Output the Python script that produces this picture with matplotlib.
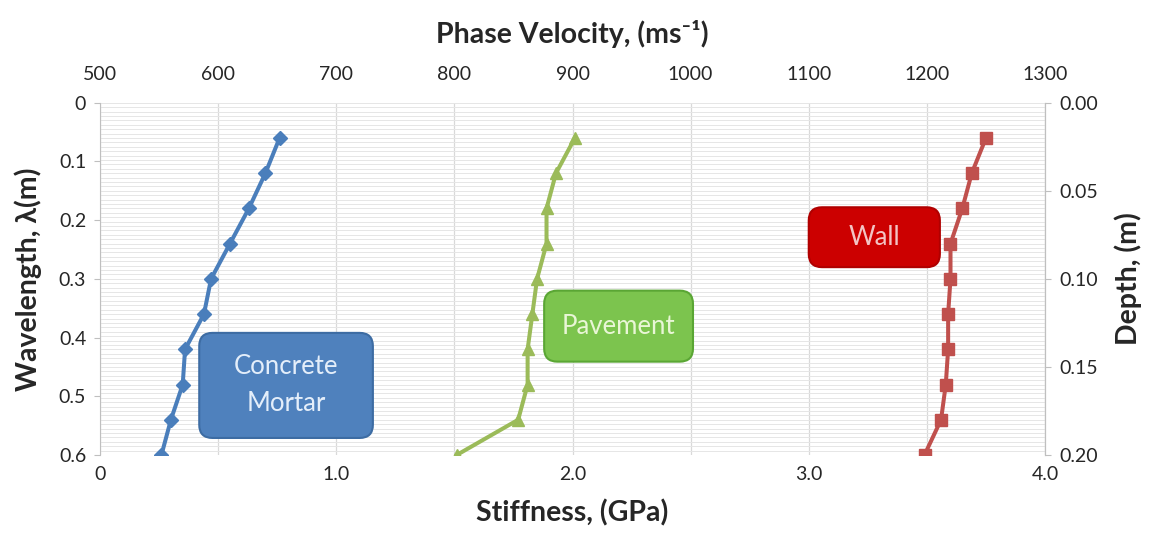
import matplotlib
matplotlib.use("Agg")
import matplotlib.pyplot as plt
import numpy as np
from matplotlib.patches import FancyBboxPatch
from matplotlib.ticker import FixedLocator, FuncFormatter

# wavelength (m) shared by all three profiles
WAVELENGTH = [0.06, 0.12, 0.18, 0.24, 0.30, 0.36, 0.42, 0.48, 0.54, 0.60]

# stiffness (GPa)
CONCRETE = [0.76, 0.70, 0.63, 0.55, 0.47, 0.44, 0.36, 0.35, 0.30, 0.26]
PAVEMENT = [2.01, 1.93, 1.89, 1.89, 1.85, 1.83, 1.81, 1.81, 1.77, 1.51]
WALL = [3.75, 3.69, 3.65, 3.60, 3.60, 3.59, 3.59, 3.58, 3.56, 3.49]

STIFF_TICKS = [0, 1.0, 2.0, 3.0, 4.0]
VEL_TICKS = [500, 600, 700, 800, 900, 1000, 1100, 1200, 1300]
WAVE_TICKS = [0, 0.1, 0.2, 0.3, 0.4, 0.5, 0.6]
DEPTH_TICKS = [0.00, 0.05, 0.10, 0.15, 0.20]

SERIES = [
    (CONCRETE, '#4a7ebb', 'D', 7),
    (PAVEMENT, '#9bbb59', '^', 8),
    (WALL, '#c0504d', 's', 8),
]

LABELS = [
    # text, x0, y0, x1, y1 (stiffness / wavelength), face, edge, text colour
    ('Concrete\nMortar', 0.42, 0.392, 1.155, 0.571, '#4f81bd', '#3d6ca3', '#e4eefa'),
    ('Pavement', 1.88, 0.320, 2.51, 0.441, '#7cc44e', '#5aa634', '#e9f6d6'),
    ('Wall', 3.00, 0.178, 3.555, 0.280, '#cc0000', '#b00000', '#f3c4c4'),
]

plt.rcParams['font.family'] = ['Lato', 'DejaVu Sans']

fig = plt.figure(figsize=(11.51, 5.41), dpi=100)
ax = fig.add_axes([0.0869, 0.159, 0.8210, 0.651])

XMAX, YMAX = 4.0, 0.6
ax.set_xlim(0, XMAX)
ax.set_ylim(YMAX, 0)

# gridlines: vertical every 0.5 GPa, dense horizontal minor lines
for x in np.arange(0, 4.01, 0.5):
    ax.axvline(x, color='#d9d9d9', linewidth=0.9, zorder=0)
for y in np.linspace(0, 0.6, 81):
    ax.axhline(y, color='#e6e6e6', linewidth=0.7, zorder=0)

for values, color, marker, ms in SERIES:
    ax.plot(values, WAVELENGTH, color=color, linewidth=2.9, marker=marker,
            markersize=ms, markerfacecolor=color, markeredgecolor=color, zorder=3)

# rounded label boxes, built in axes fraction so the corners stay round
aspect = (0.8210 * 1151) / (0.651 * 541)
for text, x0, y0, x1, y1, face, edge, tcolor in LABELS:
    fx0, fx1 = x0 / XMAX, x1 / XMAX
    fy0, fy1 = 1 - y1 / YMAX, 1 - y0 / YMAX
    box = FancyBboxPatch((fx0, fy0), fx1 - fx0, fy1 - fy0,
                         boxstyle='round,pad=0,rounding_size=0.014',
                         mutation_aspect=aspect, transform=ax.transAxes,
                         facecolor=face, edgecolor=edge, linewidth=1.5, zorder=4)
    ax.add_patch(box)
    ax.text((fx0 + fx1) / 2, (fy0 + fy1) / 2, text, ha='center', va='center',
            transform=ax.transAxes, fontsize=18.5, color=tcolor, linespacing=1.6,
            zorder=5)

for spine in ['top', 'bottom']:
    ax.spines[spine].set_visible(False)
ax.spines['left'].set_color('#bfbfbf')
ax.spines['right'].set_color('#bfbfbf')

tick_color = '#262626'
ax.xaxis.set_major_locator(FixedLocator(STIFF_TICKS))
ax.xaxis.set_major_formatter(FuncFormatter(lambda v, p: '0' if v == 0 else f'{v:.1f}'))
ax.yaxis.set_major_locator(FixedLocator(WAVE_TICKS))
ax.yaxis.set_major_formatter(FuncFormatter(lambda v, p: '0' if v == 0 else f'{v:.1f}'))
ax.tick_params(axis='x', length=0, pad=8, labelsize=14, colors=tick_color)
ax.tick_params(axis='y', length=4, color='#bfbfbf', pad=6, labelsize=14, labelcolor=tick_color)

top = ax.secondary_xaxis('top', functions=(lambda s: 500 + 200 * s, lambda v: (v - 500) / 200))
top.xaxis.set_major_locator(FixedLocator(VEL_TICKS))
top.tick_params(length=0, pad=14, labelsize=14, colors=tick_color)
top.spines['top'].set_visible(False)

right = ax.secondary_yaxis('right', functions=(lambda w: w / 3, lambda d: d * 3))
right.yaxis.set_major_locator(FixedLocator(DEPTH_TICKS))
right.yaxis.set_major_formatter(FuncFormatter(lambda v, p: f'{v:.2f}'))
right.tick_params(length=4, color='#bfbfbf', pad=6, labelsize=14, labelcolor=tick_color)
right.spines['right'].set_color('#bfbfbf')

title_kw = dict(fontsize=20.5, fontweight='bold', color='#262626')
ax.set_xlabel('Stiffness, (GPa)', labelpad=12, **title_kw)
ax.set_ylabel('Wavelength, λ(m)', labelpad=12, **title_kw)
top.set_xlabel('Phase Velocity, (ms⁻¹)', labelpad=17, **title_kw)
right.set_ylabel('Depth, (m)', labelpad=12, **title_kw)

fig.savefig('out.png', dpi=100, facecolor='white')
